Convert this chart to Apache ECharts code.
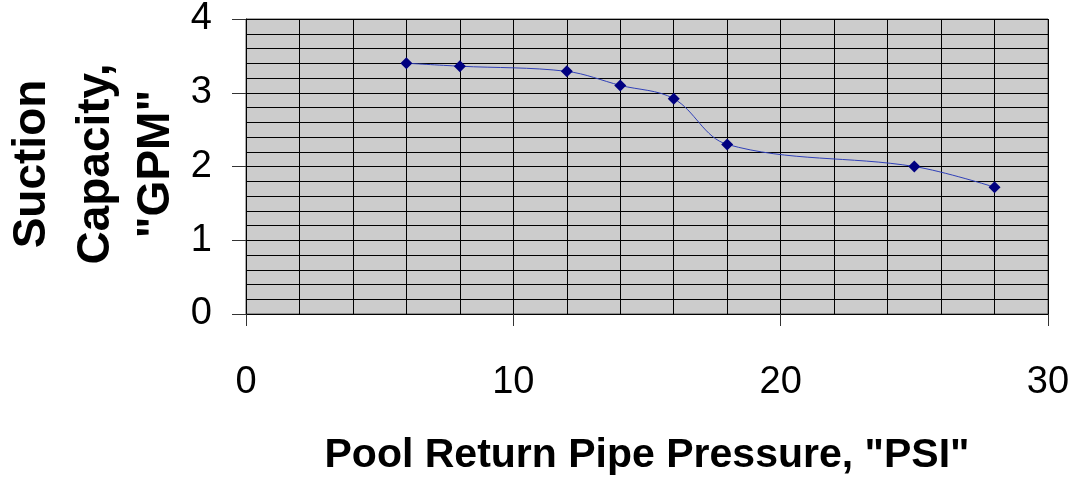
<!DOCTYPE html>
<html>
<head>
<meta charset="utf-8">
<script src="https://cdn.jsdelivr.net/npm/echarts@6/dist/echarts.min.js"></script>
<style>html,body{margin:0;padding:0;background:#fff;}#c{width:1081px;height:477px;}</style>
</head>
<body>
<div id="c"></div>
<script>
const pressurePSI = [6, 8, 12, 14, 16, 18, 25, 28];
const capacityGPM = [3.40, 3.36, 3.29, 3.10, 2.92, 2.30, 2.00, 1.72];
const xTitle = 'Pool Return Pipe Pressure, "PSI"';
const yTitleLines = ['Suction', 'Capacity,', '"GPM"'];

const chart = echarts.init(document.getElementById('c'), null, {renderer: 'canvas'});
const FONT = '"Liberation Sans", Arial, sans-serif';
const yCenters = [32, 96, 156];
const graphics = yTitleLines.map((t, i) => ({
  type: 'text',
  x: yCenters[i], y: 164,
  rotation: Math.PI / 2,
  style: {text: t, font: 'bold 46px ' + FONT, fill: '#000', align: 'center', verticalAlign: 'middle'}
}));
graphics.push({
  type: 'text', x: 647, y: 456,
  style: {text: xTitle, font: 'bold 41px ' + FONT, fill: '#000', align: 'center', verticalAlign: 'middle'}
});

chart.setOption({
  animation: false,
  grid: {left: 246, right: 33, top: 19, bottom: 163, show: true, backgroundColor: '#cccccc', borderColor: '#555', borderWidth: 1},
  xAxis: {
    type: 'value', min: 0, max: 30, interval: 10,
    axisLine: {show: true, lineStyle: {color: '#000', width: 1}},
    axisTick: {show: true, length: 12, lineStyle: {color: '#333'}},
    axisLabel: {fontSize: 38, fontFamily: FONT, color: '#000', margin: 50},
    splitLine: {show: true, lineStyle: {color: '#000', width: 1}},
    minorTick: {show: false, splitNumber: 5},
    minorSplitLine: {show: true, lineStyle: {color: '#000', width: 1}}
  },
  yAxis: {
    type: 'value', min: 0, max: 4, interval: 1,
    axisLine: {show: true, lineStyle: {color: '#000', width: 1}},
    axisTick: {show: true, length: 14, lineStyle: {color: '#333'}},
    axisLabel: {fontSize: 38, fontFamily: FONT, color: '#000', margin: 34},
    splitLine: {show: true, lineStyle: {color: '#000', width: 1}},
    minorTick: {show: false, splitNumber: 5},
    minorSplitLine: {show: true, lineStyle: {color: '#000', width: 1}}
  },
  graphic: graphics,
  series: [{
    type: 'line',
    data: pressurePSI.map((x, i) => [x, capacityGPM[i]]),
    smooth: 0.35,
    symbol: 'diamond', symbolSize: 12,
    lineStyle: {color: '#3040b8', width: 1},
    itemStyle: {color: '#000080'}
  }]
});
</script>
</body>
</html>
